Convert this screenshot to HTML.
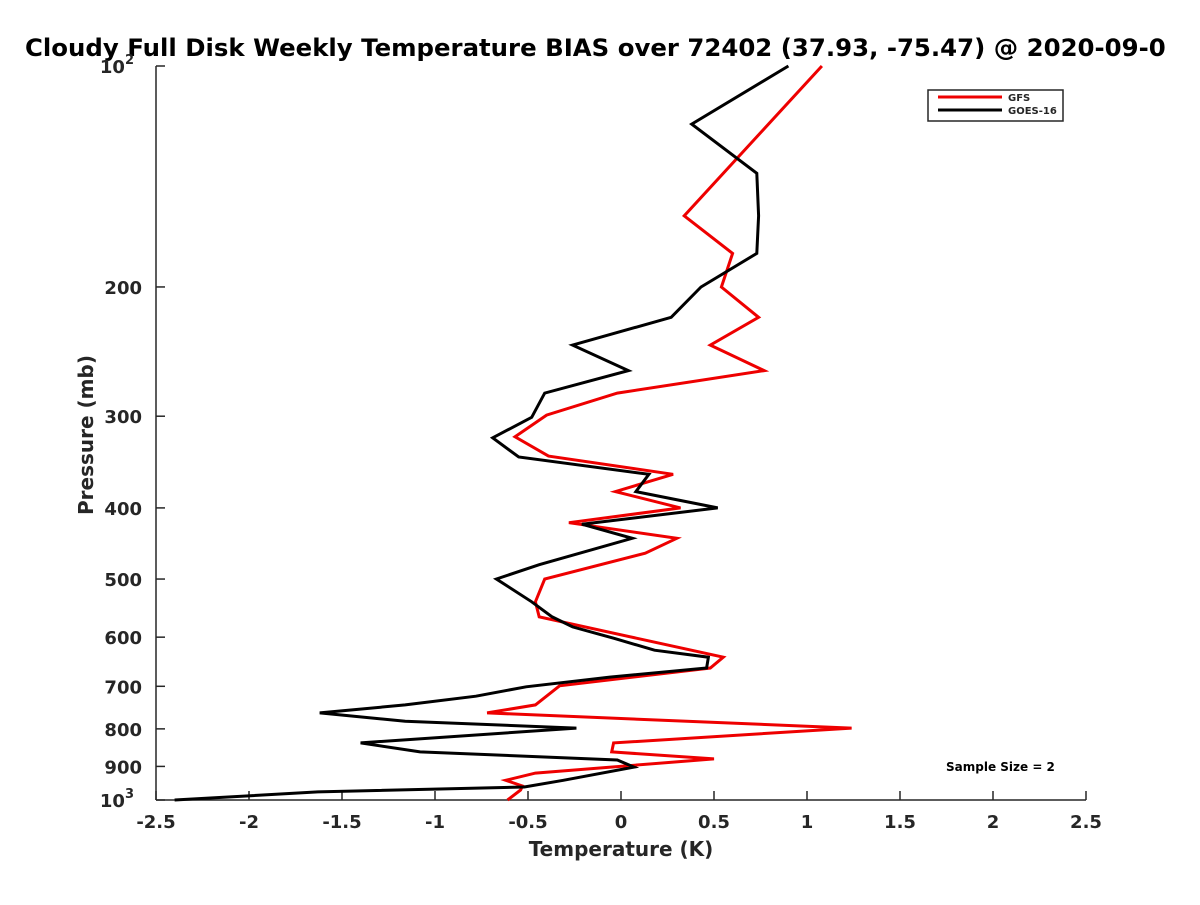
<!DOCTYPE html>
<html><head><meta charset="utf-8"><style>
body{margin:0;background:#fff;}
svg text{font-family:"DejaVu Sans","Liberation Sans",sans-serif;font-weight:bold;fill:#262626;}
</style></head><body>
<svg id="chart" width="1200" height="900" viewBox="0 0 1200 900">
<text x="25" y="56" font-size="24.4" fill="#000" style="fill:#000">Cloudy Full Disk Weekly Temperature BIAS over 72402 (37.93, -75.47) @ 2020-09-0</text>
<g id="axes"></g>
<g id="series"></g>
<text x="0" y="0" transform="translate(93,435) rotate(-90)" text-anchor="middle" font-size="20">Pressure (mb)</text>
<text x="621" y="856" text-anchor="middle" font-size="20">Temperature (K)</text>
<g>
<rect x="928" y="90" width="135" height="31" fill="#fff" stroke="#262626" stroke-width="1.5"/>
<line x1="938" y1="97" x2="1002" y2="97" stroke="#e00" stroke-width="3"/>
<text x="1008" y="101" font-size="10">GFS</text>
<line x1="938" y1="110" x2="1002" y2="110" stroke="#000" stroke-width="3"/>
<text x="1008" y="114" font-size="10">GOES-16</text>
</g>
<text x="946" y="771" font-size="12" fill="#000" style="fill:#000">Sample Size = 2</text>
</svg>
<script>
const xTicks=[-2.5,-2,-1.5,-1,-0.5,0,0.5,1,1.5,2,2.5];
const yTicks=[100,200,300,400,500,600,700,800,900,1000];
const gfsT=[1.08,0.34,0.60,0.54,0.74,0.48,0.77,-0.02,-0.40,-0.57,-0.39,0.28,-0.03,0.32,-0.28,0.30,0.13,-0.41,-0.46,-0.44,0.55,0.48,-0.33,-0.46,-0.72,1.24,-0.04,-0.05,0.50,-0.46,-0.62,-0.53,-0.54,-0.61];
const gfsP=[100,160,180,200,220,240,260,279,299,320,340,360,380,400,419,440,461,500,537,563,639,661,699,742,761,798,836,860,879,919,940,957,969,1000];
const goesT=[0.90,0.38,0.73,0.74,0.73,0.43,0.27,-0.26,0.04,-0.41,-0.48,-0.69,-0.55,0.15,0.08,0.52,-0.21,0.06,-0.44,-0.67,-0.48,-0.37,-0.26,-0.04,0.18,0.47,0.46,-0.06,-0.51,-0.78,-1.16,-1.62,-1.16,-0.24,-1.40,-1.08,-0.02,0.07,-0.31,-0.52,-1.63,-2.40];
const goesP=[100,120,140,160,180,200,220,240,260,279,301,321,341,360,380,400,421,440,478,500,537,563,581,602,625,639,661,680,701,722,742,761,781,798,836,860,882,902,940,960,975,1000];
const NS='http://www.w3.org/2000/svg';
const X0=156,X1=1086,Y0=66,Y1=800;
function xs(v){return X0+(v-(-2.5))/5*(X1-X0);}
function ys(p){return Y0+Math.log10(p/100)*(Y1-Y0);}
function mk(tag,attrs,parent){const e=document.createElementNS(NS,tag);for(const k in attrs)e.setAttribute(k,attrs[k]);parent.appendChild(e);return e;}
const axes=document.getElementById('axes');
let l=mk('line',{x1:X0,y1:Y0,x2:X0,y2:Y1,stroke:'#262626','stroke-width':1.5},axes);


l=mk('line',{x1:X0,y1:Y1,x2:X1,y2:Y1,stroke:'#262626','stroke-width':1.5},axes);


xTicks.forEach(v=>{
  const x=xs(v);
  const t=mk('line',{x1:x,y1:Y1,x2:x,y2:Y1-9,stroke:'#262626','stroke-width':1.5},axes);
  
  
  const tx=mk('text',{x:x,y:Y1+28,'text-anchor':'middle','font-size':18},axes);
  tx.textContent=String(v);
  
  
});
yTicks.forEach(p=>{
  const y=ys(p);
  const t=mk('line',{x1:X0,y1:y,x2:X0+9,y2:y,stroke:'#262626','stroke-width':1.5},axes);
  
  
  const tx=mk('text',{x:X0-14,y:y+7,'text-anchor':'end','font-size':18},axes);
  if(p===100||p===1000){
    tx.textContent='10';
    const s=mk('tspan',{dy:-9,'font-size':13},tx);
    s.textContent=p===100?'2':'3';
    tx.setAttribute('x',X0-22);
    
    
  } else tx.textContent=String(p);
  
  
});
const series=document.getElementById('series');
function draw(T,P,color,name){
  const pts=T.map((t,i)=>xs(t).toFixed(1)+','+ys(P[i]).toFixed(1)).join(' ');
  const pl=mk('polyline',{points:pts,fill:'none',stroke:color,'stroke-width':3,'stroke-linejoin':'miter'},series);
  
  
}
draw(gfsT,gfsP,'#e00','gfs-line');
draw(goesT,goesP,'#000','goes16-line');
</script>
</body></html>
